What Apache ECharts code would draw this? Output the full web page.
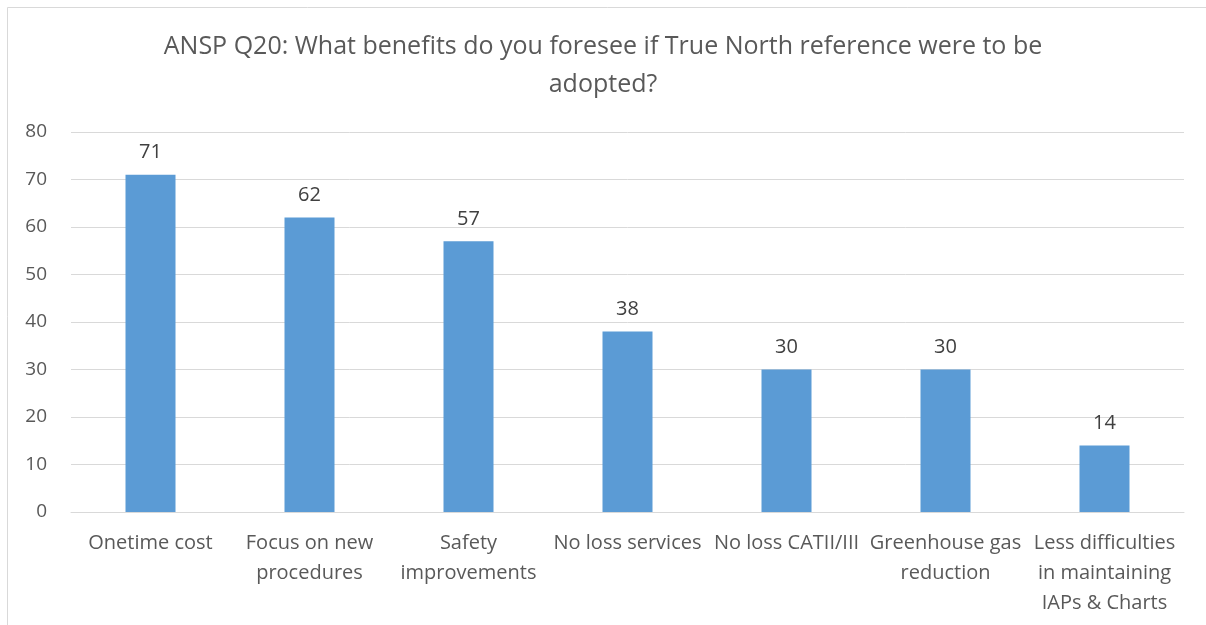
<!DOCTYPE html>
<html>
<head>
<meta charset="utf-8">
<script src="https://cdn.jsdelivr.net/npm/echarts@6/dist/echarts.min.js"></script>
<style>
  html, body { margin: 0; padding: 0; background: #fff; }
  #chart { width: 1206px; height: 625px; }
</style>
</head>
<body>
<div id="chart"></div>
<script>
// Survey answers: benefits foreseen with a True North reference
const titleText = 'ANSP Q20: What benefits do you foresee if True North reference were to be\nadopted?';
const categories = [
  'Onetime cost',
  'Focus on new\nprocedures',
  'Safety\nimprovements',
  'No loss services',
  'No loss CATII/III',
  'Greenhouse gas\nreduction',
  'Less difficulties\nin maintaining\nIAPs & Charts'
];
const counts = [71, 62, 57, 38, 30, 30, 14];
const yTicks = { min: 0, max: 80, interval: 10 };

const FONT = '"Open Sans", Lato, sans-serif';
const chart = echarts.init(document.getElementById('chart'));

chart.setOption({
  backgroundColor: '#ffffff',
  animation: false,
  textStyle: { fontFamily: FONT },
  title: {
    text: titleText,
    left: 'center',
    top: 23,
    textStyle: {
      fontFamily: FONT,
      fontSize: 25,
      fontWeight: 'normal',
      color: '#595959',
      lineHeight: 38
    }
  },
  graphic: [{
    type: 'rect',
    shape: { x: 7.5, y: 7.5, width: 1230, height: 640 },
    style: { fill: 'none', stroke: '#d9d9d9', lineWidth: 1 },
    silent: true,
    z: -1
  }],
  grid: { left: 71, right: 22, top: 132, bottom: 113, containLabel: false },
  xAxis: {
    type: 'category',
    data: categories,
    axisLine: { show: true, lineStyle: { color: '#d9d9d9', width: 1 } },
    axisTick: { show: false },
    axisLabel: {
      interval: 0,
      margin: 16,
      fontFamily: FONT,
      fontSize: 20,
      color: '#595959',
      lineHeight: 30
    }
  },
  yAxis: {
    type: 'value',
    min: yTicks.min,
    max: yTicks.max,
    interval: yTicks.interval,
    axisLine: { show: false },
    axisTick: { show: false },
    axisLabel: {
      margin: 24,
      fontFamily: FONT,
      fontSize: 19,
      color: '#595959'
    },
    splitLine: { lineStyle: { color: '#d9d9d9', width: 1 } }
  },
  series: [{
    type: 'bar',
    data: counts,
    barWidth: 50,
    itemStyle: { color: '#5b9bd5' },
    label: {
      show: true,
      position: 'top',
      distance: 12,
      fontFamily: FONT,
      fontSize: 20,
      color: '#404040'
    }
  }]
});
</script>
</body>
</html>
